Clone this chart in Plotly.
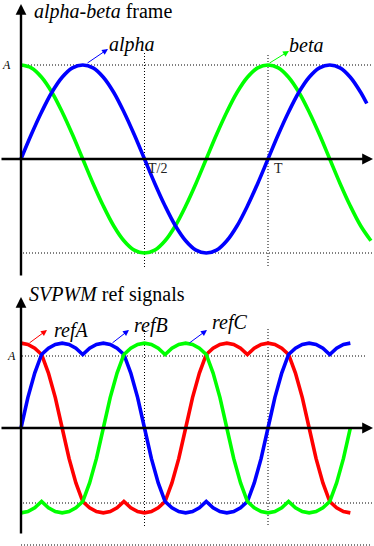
import plotly.graph_objects as go

# ---------------- data ----------------
# top panel: time in periods (15 degree steps), last point = end of trace
t_top_grid = [k / 24 for k in range(34)]          # 0 .. 495 deg
t_alpha = t_top_grid + [504 / 360]
t_beta = t_top_grid + [510 / 360]
alpha = [0, 0.26, 0.5, 0.71, 0.87, 0.97, 1, 0.97, 0.87, 0.71, 0.5, 0.26,
         0, -0.26, -0.5, -0.71, -0.87, -0.97, -1, -0.97, -0.87, -0.71, -0.5, -0.26,
         0, 0.26, 0.5, 0.71, 0.87, 0.97, 1, 0.97, 0.87, 0.71, 0.59]
beta = [1, 0.97, 0.87, 0.71, 0.5, 0.26, 0, -0.26, -0.5, -0.71, -0.87, -0.97,
        -1, -0.97, -0.87, -0.71, -0.5, -0.26, 0, 0.26, 0.5, 0.71, 0.87, 0.97,
        1, 0.97, 0.87, 0.71, 0.5, 0.26, 0, -0.26, -0.5, -0.71, -0.87]

# bottom panel: 10 degree steps, 0 .. 480 deg
t_bot = [k / 36 for k in range(49)]
refA = [0.866, 0.853, 0.814, 0.75, 0.56, 0.31, 0, -0.31, -0.56, -0.75,
        -0.814, -0.853, -0.866, -0.853, -0.814, -0.75, -0.814, -0.853, -0.866, -0.853,
        -0.814, -0.75, -0.56, -0.31, 0, 0.31, 0.56, 0.75, 0.814, 0.853,
        0.866, 0.853, 0.814, 0.75, 0.814, 0.853, 0.866, 0.853, 0.814, 0.75,
        0.56, 0.31, 0, -0.31, -0.56, -0.75, -0.814, -0.853, -0.866]
refB = [0, 0.31, 0.56, 0.75, 0.814, 0.853, 0.866, 0.853, 0.814, 0.75,
        0.814, 0.853, 0.866, 0.853, 0.814, 0.75, 0.56, 0.31, 0, -0.31,
        -0.56, -0.75, -0.814, -0.853, -0.866, -0.853, -0.814, -0.75, -0.814, -0.853,
        -0.866, -0.853, -0.814, -0.75, -0.56, -0.31, 0, 0.31, 0.56, 0.75,
        0.814, 0.853, 0.866, 0.853, 0.814, 0.75, 0.814, 0.853, 0.866]
refC = [-0.866, -0.853, -0.814, -0.75, -0.814, -0.853, -0.866, -0.853, -0.814, -0.75,
        -0.56, -0.31, 0, 0.31, 0.56, 0.75, 0.814, 0.853, 0.866, 0.853,
        0.814, 0.75, 0.814, 0.853, 0.866, 0.853, 0.814, 0.75, 0.56, 0.31,
        0, -0.31, -0.56, -0.75, -0.814, -0.853, -0.866, -0.853, -0.814, -0.75,
        -0.814, -0.853, -0.866, -0.853, -0.814, -0.75, -0.56, -0.31, 0]

# ---------------- layout helpers ----------------
W, H = 374, 546
X0, PER = 21, 247          # pixel of t=0, pixels per period
TOP_AX, TOP_SC = 159, 94   # pixel of zero line, pixels per unit (top)
BOT_AX, BOT_SC = 428, 98   # (bottom)
SPLIT = 280


def tx(px):
    return (px - X0) / PER


def vt(py):
    return (TOP_AX - py) / TOP_SC


def vb(py):
    return (BOT_AX - py) / BOT_SC


def px(x):
    return x / W


def py(y):
    return 1 - y / H


BLUE, GREEN, RED = "#0000ff", "#00ff00", "#ff0000"
LW = 3.6
FONT = "Liberation Serif"

fig = go.Figure()
fig.add_trace(go.Scatter(x=t_beta, y=beta, mode="lines", line=dict(color=GREEN, width=LW, shape="spline"),
                         xaxis="x", yaxis="y", hoverinfo="skip"))
fig.add_trace(go.Scatter(x=t_alpha, y=alpha, mode="lines", line=dict(color=BLUE, width=LW, shape="spline"),
                         xaxis="x", yaxis="y", hoverinfo="skip"))
fig.add_trace(go.Scatter(x=t_bot, y=refA, mode="lines", line=dict(color=RED, width=LW),
                         xaxis="x2", yaxis="y2", hoverinfo="skip"))
fig.add_trace(go.Scatter(x=t_bot, y=refB, mode="lines", line=dict(color=BLUE, width=LW),
                         xaxis="x2", yaxis="y2", hoverinfo="skip"))
fig.add_trace(go.Scatter(x=t_bot, y=refC, mode="lines", line=dict(color=GREEN, width=LW),
                         xaxis="x2", yaxis="y2", hoverinfo="skip"))

shapes = []
dot = dict(color="black", width=1, dash="1px,2px")


def seg(xr, yr, x0, y0, x1, y1):
    shapes.append(dict(type="line", xref=xr, yref=yr, x0=x0, y0=y0, x1=x1, y1=y1, line=dot, layer="below"))


# top dotted guides
seg("x", "y", tx(22), 1, tx(371), 1)
seg("x", "y", tx(23), -1, tx(372), -1)
seg("x", "y", 0.5, vt(53), 0.5, vt(267))
seg("x", "y", 1.0, vt(55), 1.0, vt(268))
# bottom dotted guides
seg("x2", "y2", tx(22), vb(356), tx(367), vb(356))
seg("x2", "y2", tx(23), vb(503), tx(372), vb(503))
seg("x2", "y2", tx(21), vb(545), tx(372), vb(545))
seg("x2", "y2", 0.5, vb(330), 0.5, vb(527))
seg("x2", "y2", 1.0, vb(329), 1.0, vb(527))

ann = []


def arrow(xr, yr, x0, y0, x1, y1, color, width, head=2, size=1.0):
    ann.append(dict(xref=xr, yref=yr, axref=xr, ayref=yr, x=x1, y=y1, ax=x0, ay=y0, text="",
                    showarrow=True, arrowhead=head, arrowsize=size, arrowwidth=width,
                    arrowcolor=color, standoff=0, startstandoff=0))


# axes
arrow("x", "y", 0, vt(277), 0, vt(4), "black", 2.4, size=0.9)
arrow("x", "y", tx(0), 0, tx(373), 0, "black", 2.4, size=0.9)
arrow("x2", "y2", 0, vb(535), 0, vb(297), "black", 2.4, size=0.9)
arrow("x2", "y2", tx(0), 0, tx(373), 0, "black", 2.4, size=0.9)
# label pointers
arrow("x", "y", tx(86), vt(64), tx(108), vt(49), BLUE, 1, size=1.2)
arrow("x", "y", tx(268), vt(64), tx(289), vt(51), GREEN, 1, size=1.2)
arrow("x2", "y2", tx(28), vb(344), tx(47), vb(330), RED, 1, size=1.2)
arrow("x2", "y2", tx(111), vb(344), tx(129), vb(330), BLUE, 1, size=1.2)
arrow("x2", "y2", tx(188), vb(344), tx(207), vb(330), BLUE, 1, size=1.2)


def label(x, y, text, size, anchor="center", color="black"):
    ann.append(dict(xref="paper", yref="paper", x=px(x), y=py(y), text=text, showarrow=False,
                    xanchor=anchor, yanchor="middle", font=dict(family=FONT, size=size, color=color)))


label(32, 11, "<i>alpha-beta</i> frame", 20, "left")
label(132, 44, "<i>alpha</i>", 20)
label(306, 45, "<i>beta</i>", 20)
label(7, 65, "<i>A</i>", 12)
label(157, 168, "T/2", 14, color="#222")
label(278, 168, "T", 14, color="#222")
label(27, 294, "<i>SVPWM</i> ref signals", 20, "left")
label(71, 330, "<i>refA</i>", 20)
label(151, 325, "<i>refB</i>", 20)
label(229, 322, "<i>refC</i>", 20)
label(11, 356, "<i>A</i>", 12)

xr = [tx(0), tx(W)]
ax_common = dict(visible=False, showgrid=False, zeroline=False, fixedrange=True)
fig.update_layout(
    width=W, height=H, margin=dict(l=0, r=0, t=0, b=0),
    paper_bgcolor="white", plot_bgcolor="white", showlegend=False,
    font=dict(family=FONT),
    xaxis=dict(range=xr, domain=[0, 1], anchor="y", **ax_common),
    yaxis=dict(range=[vt(SPLIT), vt(0)], domain=[py(SPLIT), 1], anchor="x", **ax_common),
    xaxis2=dict(range=xr, domain=[0, 1], anchor="y2", **ax_common),
    yaxis2=dict(range=[vb(H), vb(SPLIT)], domain=[0, py(SPLIT)], anchor="x2", **ax_common),
    shapes=shapes, annotations=ann,
)
fig.write_html("out.html", config={"displayModeBar": False})
